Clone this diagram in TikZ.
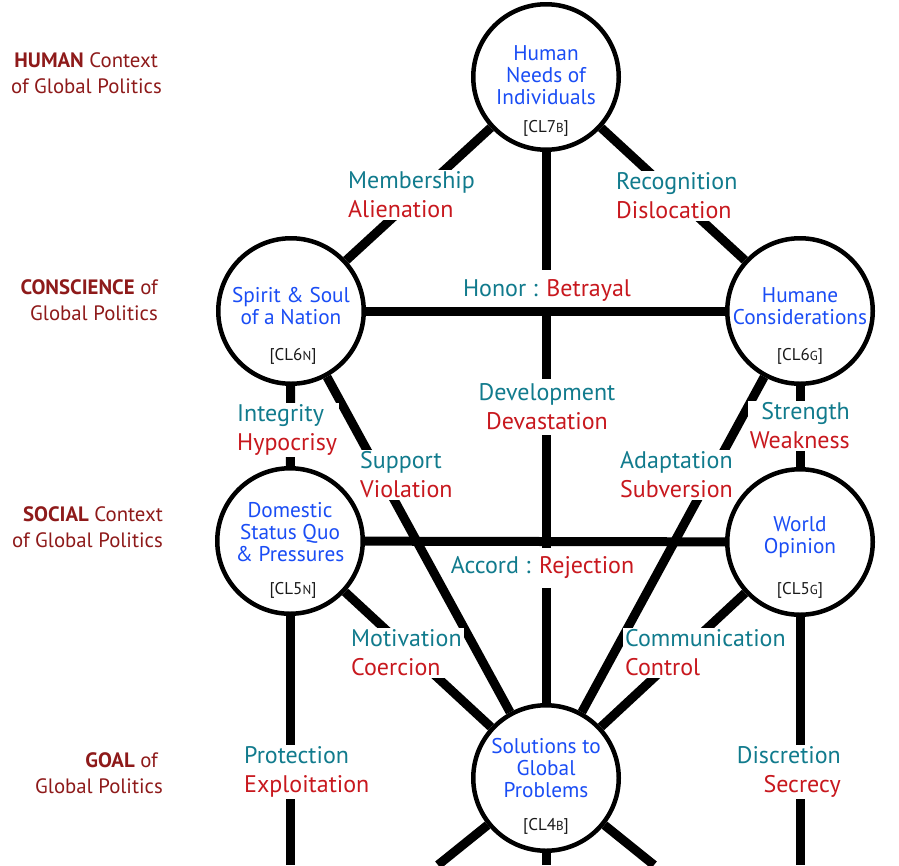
\documentclass[tikz,border=0pt]{standalone}
\usepackage{fontspec}
\setmainfont{PT Sans}
\usetikzlibrary{backgrounds}
\definecolor{cblue}{HTML}{1A4DF5}
\definecolor{cteal}{HTML}{117B8D}
\definecolor{cred}{HTML}{C8181E}
\definecolor{cside}{HTML}{8E1A1A}
\tikzset{
  conn/.style={line width=9pt, black},
  circ/.style={circle, draw=black, line width=4.5pt, fill=white, minimum size=145.5pt, inner sep=0pt},
  ctext/.style={text=cblue, align=center, font=\fontsize{21.3}{22}\selectfont},
  cltext/.style={text=black!90, font=\fontsize{17}{18}\selectfont},
  lab/.style={fill=white, inner sep=2pt, font=\fontsize{24}{29}\selectfont},
  side/.style={text=cside, align=right, font=\fontsize{20.8}{26}\selectfont, inner sep=0pt},
}
\newcommand{\tl}[1]{\textcolor{cteal}{#1}}
\newcommand{\rl}[1]{\textcolor{cred}{#1}}
\newcommand{\sm}[1]{{\fontsize{13}{14}\selectfont #1}}
\begin{document}
\begin{tikzpicture}[x=1pt,y=-1pt]
\useasboundingbox (0,0) rectangle (899,865);
% circles
\node[circ] (A) at (546,77) {};
\node[circ] (B) at (291,311) {};
\node[circ] (C) at (800,311) {};
\node[circ] (D) at (290,541) {};
\node[circ] (E) at (800,542) {};
\node[circ] (F) at (546,778) {};
% free ends
\coordinate (DB) at (290,865);
\coordinate (EB) at (800,865);
\coordinate (FL) at (438,865);
\coordinate (FM) at (546,865);
\coordinate (FR) at (654,865);
% connectors
\begin{scope}[on background layer]
\draw[conn] (A) -- (B);
\draw[conn] (A) -- (C);
\draw[conn] (A) -- (F);
\draw[conn] (B) -- (D);
\draw[conn] (C) -- (E);
\draw[conn] (B) -- (F);
\draw[conn] (C) -- (F);
\draw[conn] (D) -- (F);
\draw[conn] (E) -- (F);
\draw[conn] (D) -- (DB);
\draw[conn] (E) -- (EB);
\draw[conn] (F) -- (FL);
\draw[conn] (F) -- (FM);
\draw[conn] (F) -- (FR);
\end{scope}
% circle texts
\node[ctext] (At) at (546,75) {Human\\Needs of\\Individuals};
\node[cltext] (Acl) at (546,128) {[CL7\sm{B}]};
\node[ctext] (Bt) at (291,306) {Spirit \& Soul\\of a Nation};
\node[cltext] (Bcl) at (293,356) {[CL6\sm{N}]};
\node[ctext] (Ct) at (800,306) {Humane\\Considerations};
\node[cltext] (Ccl) at (800,356) {[CL6\sm{G}]};
\node[ctext] (Dt) at (290,532) {Domestic\\Status Quo\\\& Pressures};
\node[cltext] (Dcl) at (293,590) {[CL5\sm{N}]};
\node[ctext] (Et) at (800,537) {World\\Opinion};
\node[cltext] (Ecl) at (800,590) {[CL5\sm{G}]};
\node[ctext] (Ft) at (546,768) {Solutions to\\Global\\Problems};
\node[cltext] (Fcl) at (546,826) {[CL4\sm{B}]};
% edge labels
\node[lab, anchor=west, align=left] (L1) at (346,195) {\tl{Membership}\\\rl{Alienation}};
\node[lab, anchor=west, align=left] (L2) at (614,196) {\tl{Recognition}\\\rl{Dislocation}};
\node[lab, inner ysep=9pt] (L3) at (547,290) {\tl{Honor :} \rl{Betrayal}};
\node[lab, anchor=west, align=left] (L4) at (235,430) {\tl{Integrity}\\\rl{Hypocrisy}};
\node[lab, align=center, inner ysep=5pt] (L5) at (547,407) {\tl{Development}\\\rl{Devastation}};
\node[lab, anchor=west, align=left] (L6) at (358,475) {\tl{Support}\\\rl{Violation}};
\node[lab, anchor=west, align=left] (L7) at (618,475) {\tl{Adaptation}\\\rl{Subversion}};
\node[lab, anchor=east, align=right] (L8) at (852,426) {\tl{Strength}\\\rl{Weakness}};
\node[lab, inner ysep=9pt] (L9) at (542.5,568) {\tl{Accord :} \rl{Rejection}};
\node[lab, anchor=west, align=left] (L10) at (349,653) {\tl{Motivation}\\\rl{Coercion}};
\node[lab, anchor=west, align=left] (L11) at (623,653) {\tl{Communication}\\\rl{Control}};
\node[lab, anchor=west, align=left] (L12) at (242,772) {\tl{Protection}\\\rl{Exploitation}};
\node[lab, anchor=east, align=right] (L13) at (843,772) {\tl{Discretion}\\\rl{Secrecy}};
% horizontal connectors above labels
\draw[conn] (B) -- (C);
\draw[conn] (D) -- (E);
% side labels
\node[side, anchor=east] (S1) at (162,73) {\textbf{HUMAN} Context\hspace*{4pt}\\of Global Politics};
\node[side, anchor=east] (S2) at (158,300) {\textbf{CONSCIENCE} of\\Global Politics};
\node[side, anchor=east] (S3) at (163,527) {\textbf{SOCIAL} Context\\of Global Politics};
\node[side, anchor=east] (S4) at (163,773) {\textbf{GOAL} of\hspace*{5pt}\\Global Politics};
\end{tikzpicture}
\end{document}
